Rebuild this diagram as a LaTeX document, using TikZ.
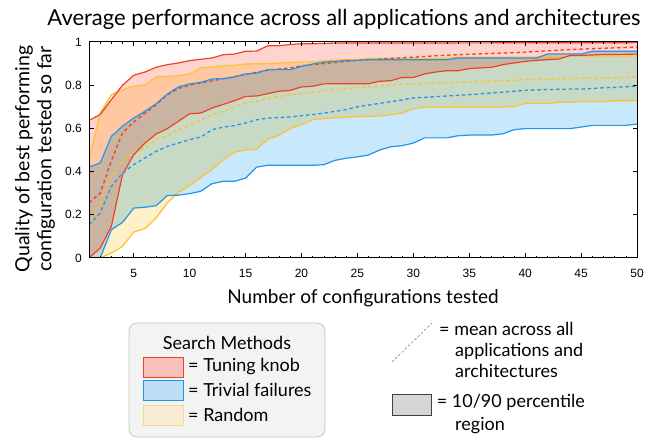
\documentclass[tikz,border=0pt]{standalone}
\usepackage{fontspec}
\setmainfont{Lato}
\newfontfamily\tickfont{Liberation Sans}
\definecolor{redline}{RGB}{240,65,35}
\definecolor{blueline}{RGB}{35,150,235}
\definecolor{yellowline}{RGB}{250,195,45}
\definecolor{redfill}{RGB}{255,212,207}
\definecolor{bluefill}{RGB}{200,232,252}
\definecolor{yellowfill}{RGB}{255,240,200}
\definecolor{redswatch}{RGB}{247,192,186}
\definecolor{blueswatch}{RGB}{187,222,246}
\definecolor{yellowswatch}{RGB}{249,236,212}
\definecolor{yellowedge}{RGB}{255,215,130}
\definecolor{legbg}{RGB}{243,243,243}
\definecolor{legborder}{RGB}{200,200,200}
\tikzset{
  bandfill/.style={fill=#1, blend mode=multiply},
  solidcurve/.style={draw=#1, line width=1.2pt, line join=round},
  meancurve/.style={draw=#1, line width=1.3pt, dash pattern=on 3.5pt off 2.8pt},
  ticklab/.style={font=\tickfont\fontsize{12}{13}\selectfont, inner sep=0pt},
  labtext/.style={font=\fontsize{18}{21}\selectfont, inner sep=0pt},
  swatch/.style={draw=#1, line width=0.9pt},
}
\def\RU{plot coordinates {(1,.637)(2,.664)(3,.733)(4,.80)(5,.846)(6,.861)(7,.883)(8,.895)(9,.903)(10,.914)(11,.92)(12,.926)(13,.941)(14,.944)(15,.957)(16,.958)(17,.983)(18,.983)(19,.988)(20,.992)(21,.992)(22,.993)(23,.995)(50,.997)}}
\def\RM{plot coordinates {(1,.255)(2,.30)(3,.45)(4,.58)(5,.63)(6,.67)(7,.71)(8,.755)(9,.785)(10,.80)(11,.81)(12,.82)(13,.83)(14,.84)(15,.85)(16,.86)(17,.87)(18,.875)(19,.88)(20,.89)(21,.895)(22,.90)(23,.905)(24,.91)(25,.915)(26,.918)(27,.921)(28,.924)(29,.927)(30,.93)(31,.933)(32,.936)(33,.939)(34,.941)(35,.943)(36,.945)(37,.947)(38,.949)(39,.951)(40,.953)(41,.956)(42,.959)(43,.962)(44,.965)(45,.967)(46,.969)(47,.971)(48,.973)(49,.975)(50,.977)}}
\def\RL{plot coordinates {(1,0)(2,.046)(3,.147)(4,.386)(5,.478)(6,.532)(7,.574)(8,.599)(9,.633)(10,.668)(11,.671)(12,.694)(13,.711)(14,.728)(15,.748)(16,.75)(17,.761)(18,.772)(19,.776)(20,.792)(21,.795)(22,.806)(23,.807)(26,.807)(27,.818)(28,.821)(29,.836)(30,.836)(31,.852)(32,.861)(33,.867)(34,.867)(35,.877)(36,.880)(37,.883)(38,.895)(39,.903)(40,.91)(41,.915)(42,.918)(43,.921)(44,.937)(45,.938)(46,.94)(47,.942)(48,.942)(49,.943)(50,.944)}}
\def\BU{plot coordinates {(1,.421)(2,.44)(3,.563)(4,.61)(5,.648)(6,.679)(7,.714)(8,.759)(9,.792)(10,.806)(11,.813)(12,.829)(13,.83)(14,.838)(15,.852)(16,.856)(17,.872)(19,.872)(20,.887)(21,.898)(22,.907)(23,.91)(24,.914)(25,.915)(26,.918)(33,.918)(34,.926)(41,.926)(42,.944)(45,.944)(46,.957)(50,.957)}}
\def\BM{plot coordinates {(1,.154)(2,.208)(3,.332)(4,.394)(5,.432)(6,.463)(7,.494)(8,.517)(9,.532)(10,.548)(11,.56)(12,.594)(13,.606)(14,.613)(15,.625)(16,.64)(17,.648)(18,.65)(19,.653)(20,.659)(21,.664)(22,.671)(23,.679)(24,.687)(25,.70)(26,.708)(27,.716)(28,.724)(29,.732)(30,.741)(31,.744)(32,.747)(33,.750)(34,.753)(35,.756)(36,.760)(37,.764)(38,.768)(39,.772)(40,.776)(41,.778)(42,.780)(43,.781)(44,.782)(45,.782)(46,.785)(47,.788)(48,.790)(49,.793)(50,.795)}}
\def\BL{plot coordinates {(1,-.2)(2,0)(3,.131)(4,.165)(5,.231)(6,.235)(7,.242)(8,.289)(9,.291)(10,.298)(11,.309)(12,.344)(13,.355)(14,.355)(15,.37)(16,.421)(17,.429)(21,.429)(22,.432)(23,.452)(24,.462)(25,.468)(26,.477)(27,.50)(28,.515)(29,.52)(30,.532)(31,.556)(33,.556)(34,.566)(35,.569)(37,.569)(38,.575)(39,.594)(40,.599)(44,.599)(45,.606)(46,.614)(49,.614)(50,.62)}}
\def\YU{plot coordinates {(1,.455)(2,.671)(3,.756)(4,.779)(5,.795)(6,.801)(7,.838)(8,.84)(9,.844)(10,.852)(11,.88)(12,.885)(13,.89)(14,.892)(15,.898)(16,.899)(17,.90)(18,.902)(19,.906)(20,.908)(21,.908)(22,.914)(23,.916)(24,.918)(25,.918)(26,.925)(33,.925)(34,.93)(41,.93)(42,.935)(50,.935)}}
\def\YM{plot coordinates {(1,.147)(2,.255)(3,.37)(4,.448)(5,.486)(6,.509)(7,.548)(8,.566)(9,.594)(10,.617)(11,.637)(12,.664)(13,.679)(14,.699)(15,.718)(16,.725)(17,.741)(18,.748)(19,.756)(20,.761)(21,.767)(22,.775)(23,.779)(24,.783)(25,.79)(26,.793)(27,.796)(28,.80)(29,.803)(30,.807)(31,.809)(32,.810)(33,.812)(34,.813)(35,.815)(36,.817)(37,.819)(38,.821)(39,.823)(40,.826)(41,.827)(42,.828)(43,.829)(44,.830)(45,.832)(46,.833)(47,.834)(48,.835)(49,.836)(50,.838)}}
\def\YL{plot coordinates {(1,-.02)(2,0)(3,.023)(4,.054)(5,.12)(6,.136)(7,.185)(8,.255)(9,.304)(10,.335)(11,.373)(12,.409)(13,.455)(14,.49)(15,.50)(16,.505)(17,.55)(18,.568)(19,.60)(20,.617)(21,.64)(22,.645)(23,.65)(24,.651)(25,.655)(26,.656)(27,.657)(28,.664)(29,.671)(30,.691)(31,.698)(37,.698)(38,.70)(39,.70)(40,.715)(42,.715)(43,.721)(44,.721)(45,.724)(47,.724)(48,.728)(50,.728)}}
\begin{document}
\begin{tikzpicture}[x=1pt,y=1pt]
\useasboundingbox (0,0) rectangle (660,441);
\fill[white] (0,0) rectangle (660,441);
% title and axis labels
\node[font=\fontsize{22}{26}\selectfont, inner sep=0pt] (title) at (344,422) {Average performance across all applications and architectures};
\node[font=\fontsize{19.5}{22}\selectfont, rotate=90, align=center, inner sep=0pt] (ylab) at (35,282) {Quality of best performing\\configuration tested so far};
\node[font=\fontsize{19}{22}\selectfont, inner sep=0pt] (xlab) at (363,143) {Number of configurations tested};
% plot
\begin{scope}[shift={(77.816pt,183pt)}, x=11.1837pt, y=216pt]
  \begin{scope}
    \clip (1,0) rectangle (50,1);
    \fill[bandfill=redfill, even odd rule] \RU -- (50,-1) -- (1,-1) -- cycle \RL -- (50,-1) -- (1,-1) -- cycle;
    \fill[bandfill=bluefill, even odd rule] \BU -- (50,-1) -- (1,-1) -- cycle \BL -- (50,-1) -- (1,-1) -- cycle;
    \fill[bandfill=yellowfill, even odd rule] \YU -- (50,-1) -- (1,-1) -- cycle \YL -- (50,-1) -- (1,-1) -- cycle;
    \draw[solidcurve=yellowline] \YU;
    \draw[solidcurve=yellowline] \YL;
    \draw[meancurve=yellowline] \YM;
    \draw[solidcurve=redline] \RU;
    \draw[solidcurve=redline] \RL;
    \draw[meancurve=redline] \RM;
    \draw[solidcurve=blueline] \BU;
    \draw[solidcurve=blueline] \BL;
    \draw[meancurve=blueline] \BM;
  \end{scope}
  % ticks
  \foreach \i in {2,...,49} {
    \draw[line width=0.6pt] (\i,0) -- ++(0,2pt);
    \draw[line width=0.6pt] (\i,1) -- ++(0,-2pt);
  }
  \foreach \i in {5,10,...,45} {
    \draw[line width=0.6pt] (\i,0) -- ++(0,4.5pt);
    \draw[line width=0.6pt] (\i,1) -- ++(0,-4.5pt);
  }
  \foreach \i in {5,10,...,50} {
    \node[ticklab] (xt\i) at (\i,0) [yshift=-15pt] {\i};
  }
  \foreach \v in {0.2,0.4,0.6,0.8} {
    \draw[line width=0.6pt] (1,\v) -- ++(4.5pt,0);
    \draw[line width=0.6pt] (50,\v) -- ++(-4.5pt,0);
  }
  \foreach \v/\t/\n in {0/0/a,0.2/0.2/b,0.4/0.4/c,0.6/0.6/d,0.8/0.8/e,1/1/f} {
    \node[ticklab, anchor=east] (yt\n) at (1,\v) [xshift=-7pt] {\t};
  }
  \draw[line width=1pt] (1,0) rectangle (50,1);
\end{scope}
% legend box
\draw[legborder, fill=legbg, rounded corners=8pt, line width=0.8pt] (129,118) rectangle (325,4);
\node[labtext] (legtitle) at (227,98) {Search Methods};
\draw[swatch=redline, fill=redswatch] (143,84) rectangle (183,64);
\node[labtext, anchor=west] (lt1) at (188,74) {= Tuning knob};
\draw[swatch=blueline, fill=blueswatch] (143,61) rectangle (183,41);
\node[labtext, anchor=west] (lt2) at (188,51) {= Trivial failures};
\draw[swatch=yellowedge, fill=yellowswatch] (143,35.3) rectangle (183,16);
\node[labtext, anchor=west] (lt3) at (188,26) {= Random};
% right legend
\coordinate (dA) at (392,79);
\coordinate (dB) at (432,118);
\draw[gray, line width=0.6pt, dash pattern=on 2.5pt off 2pt] (dA) -- (dB);
\node[labtext, anchor=base west] (m1) at (439,105.3) {= mean across all};
\node[labtext, anchor=base west] (m2) at (455,84.3) {applications and};
\node[labtext, anchor=base west] (m3) at (455,63.3) {architectures};
\draw[black!75, fill=black!16, line width=0.8pt] (392,47) rectangle (431,26);
\node[labtext, anchor=base west] (p1) at (436.7,33.7) {= 10/90 percentile};
\node[labtext, anchor=base west] (p2) at (455,11) {region};
\end{tikzpicture}
\end{document}
